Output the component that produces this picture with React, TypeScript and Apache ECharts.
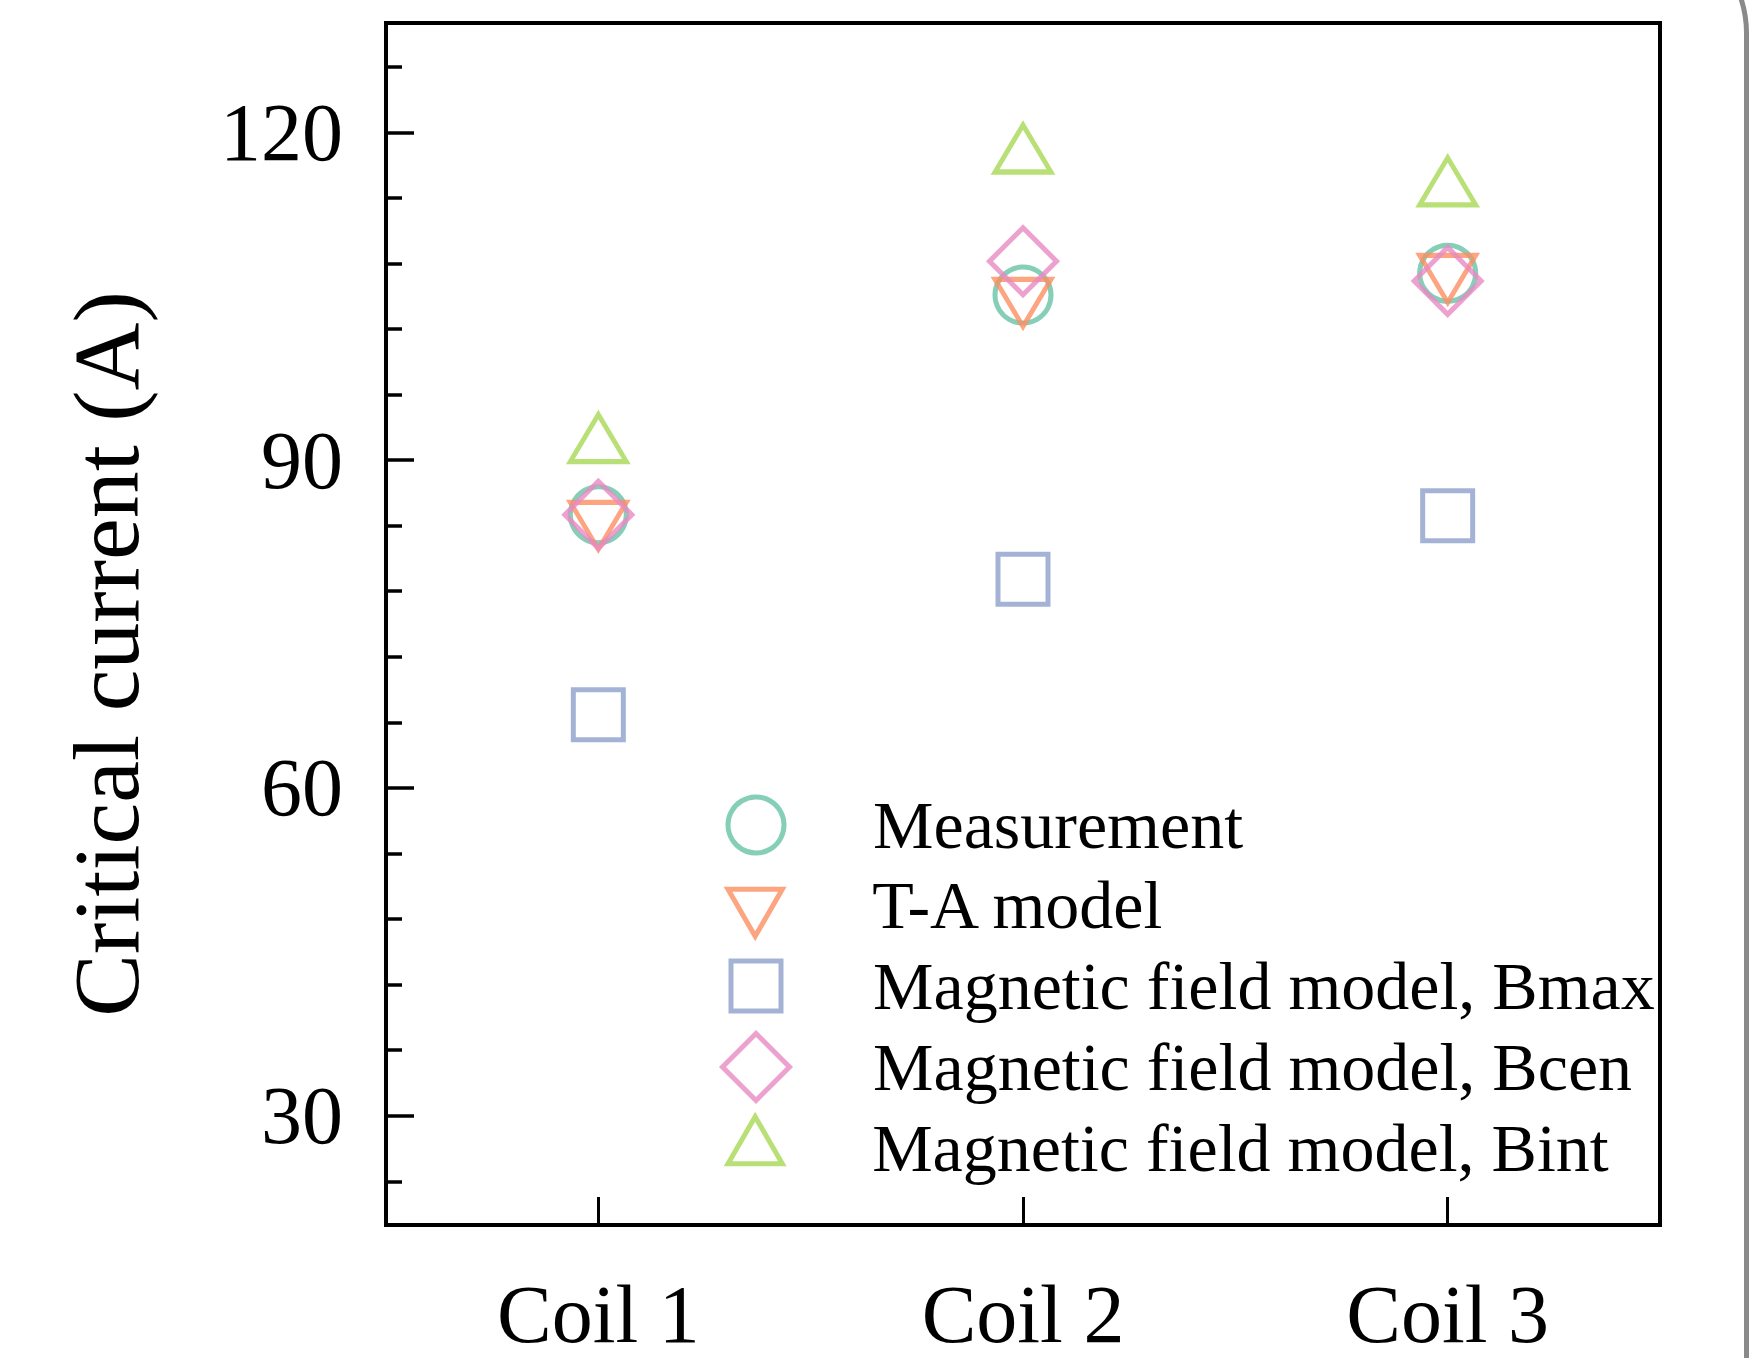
import React, { useEffect, useRef } from "react";
import * as echarts from "echarts";

const categories = ["Coil 1", "Coil 2", "Coil 3"];
const measurement = [85.0, 105.1, 107.1];
const taModel = [84.7, 105.1, 107.3];
const bmax = [66.7, 79.1, 84.9];
const bcen = [85.0, 108.2, 106.4];
const bint = [91.3, 117.8, 114.8];
const majorTicks = [30, 60, 90, 120];
const minorTicks = [24, 36, 42, 48, 54, 66, 72, 78, 84, 96, 102, 108, 114, 126];

const FONT = "'Liberation Serif', 'Times New Roman', serif";
// Triangles centred on their centroid (an invisible move-to extends the box).
const DOWN_TRI = "path://M1,-0.577M0,0L2,0L1,1.732Z";
const UP_TRI = "path://M1,2.309M0,1.732L2,1.732L1,0Z";
const LW = 5;
const TEXT_BOX = 71;

const seriesDefs = [
  { name: "Measurement", data: measurement, color: "#66c2a5", symbol: "circle", size: [56, 56], legendY: 825 },
  { name: "T-A model", data: taModel, color: "#fc8d62", symbol: DOWN_TRI, size: [56, 62.7], legendY: 905 },
  { name: "Magnetic field model, Bmax", data: bmax, color: "#8da0cb", symbol: "rect", size: [50, 50], legendY: 986 },
  { name: "Magnetic field model, Bcen", data: bcen, color: "#e78ac3", symbol: "diamond", size: [67, 67], legendY: 1067 },
  { name: "Magnetic field model, Bint", data: bint, color: "#a6d854", symbol: UP_TRI, size: [56, 62.7], legendY: 1148 },
];

export default function App() {
  const ref = useRef<HTMLDivElement>(null);
  useEffect(() => {
    if (!ref.current) return;
    const chart = echarts.init(ref.current, null, { renderer: "svg" });
    const legendCx = 756;
    const textStart = 873;
    const legends = seriesDefs.map((s) => {
      const w = s.size[0];
      const h = s.size[1];
      const topOffset = Math.min(-LW / 2, h / 2 - TEXT_BOX / 2);
      return {
        show: true,
        orient: "vertical",
        left: legendCx - w / 2 - LW / 2,
        top: s.legendY - h / 2 + topOffset,
        padding: 0,
        itemWidth: w,
        itemHeight: h,
        selectedMode: false,
        data: [{ name: s.name, icon: s.symbol }],
        itemStyle: { borderWidth: LW },
        textStyle: {
          fontFamily: FONT,
          fontSize: 68,
          color: "#000",
          lineHeight: TEXT_BOX,
          padding: [0, 0, 0, textStart - (legendCx + 5 + w / 2)],
        },
      };
    });
    const option: any = {
      animation: false,
      backgroundColor: "#fff",
      grid: {
        left: 386,
        top: 23,
        right: 91,
        bottom: 133,
        show: true,
        borderColor: "#000",
        borderWidth: 4,
        backgroundColor: "rgba(0,0,0,0)",
        outerBoundsMode: "none",
      },
      legend: legends,
      xAxis: {
        type: "category",
        data: categories,
        boundaryGap: true,
        axisLine: { show: true, lineStyle: { color: "#000", width: 4 } },
        axisTick: { show: true, inside: true, alignWithLabel: true, length: 28, lineStyle: { color: "#000", width: 3 } },
        axisLabel: { fontFamily: FONT, fontSize: 82, color: "#000", margin: 48, lineHeight: 82 },
        splitLine: { show: false },
      },
      yAxis: [
        {
          type: "value",
          min: 20,
          max: 130,
          position: "left",
          name: "Critical current (A)",
          nameLocation: "middle",
          nameGap: 233,
          nameTextStyle: { fontFamily: FONT, fontSize: 94, color: "#000", lineHeight: 94, padding: [0, 60, 0, 0] },
          axisLine: { show: true, lineStyle: { color: "#000", width: 4 } },
          axisTick: { show: true, inside: true, length: 28, customValues: majorTicks, lineStyle: { color: "#000", width: 3.5 } },
          axisLabel: { fontFamily: FONT, fontSize: 82, color: "#000", margin: 43, customValues: majorTicks },
          splitLine: { show: false },
        },
        {
          type: "value",
          min: 20,
          max: 130,
          position: "left",
          axisLine: { show: false },
          axisTick: { show: true, inside: true, length: 16, customValues: minorTicks, lineStyle: { color: "#000", width: 3.5 } },
          axisLabel: { show: false },
          splitLine: { show: false },
        },
      ],
      series: seriesDefs.map((s) => ({
        name: s.name,
        type: "scatter",
        xAxisIndex: 0,
        yAxisIndex: 0,
        data: s.data,
        symbol: s.symbol,
        symbolSize: s.size,
        itemStyle: { color: "rgba(0,0,0,0)", borderColor: s.color, borderWidth: LW },
        emphasis: { disabled: true },
      })),
      graphic: [
        {
          type: "rect",
          silent: true,
          shape: { x: -200, y: -77, width: 1946.5, height: 1700, r: 110 },
          style: { fill: "none", stroke: "#8a8a8a", lineWidth: 5 },
        },
      ],
    };
    chart.setOption(option);
    return () => chart.dispose();
  }, []);
  return (
    <div
      ref={ref}
      style={{ position: "absolute", left: 0, top: 0, width: 1751, height: 1358 }}
    />
  );
}
